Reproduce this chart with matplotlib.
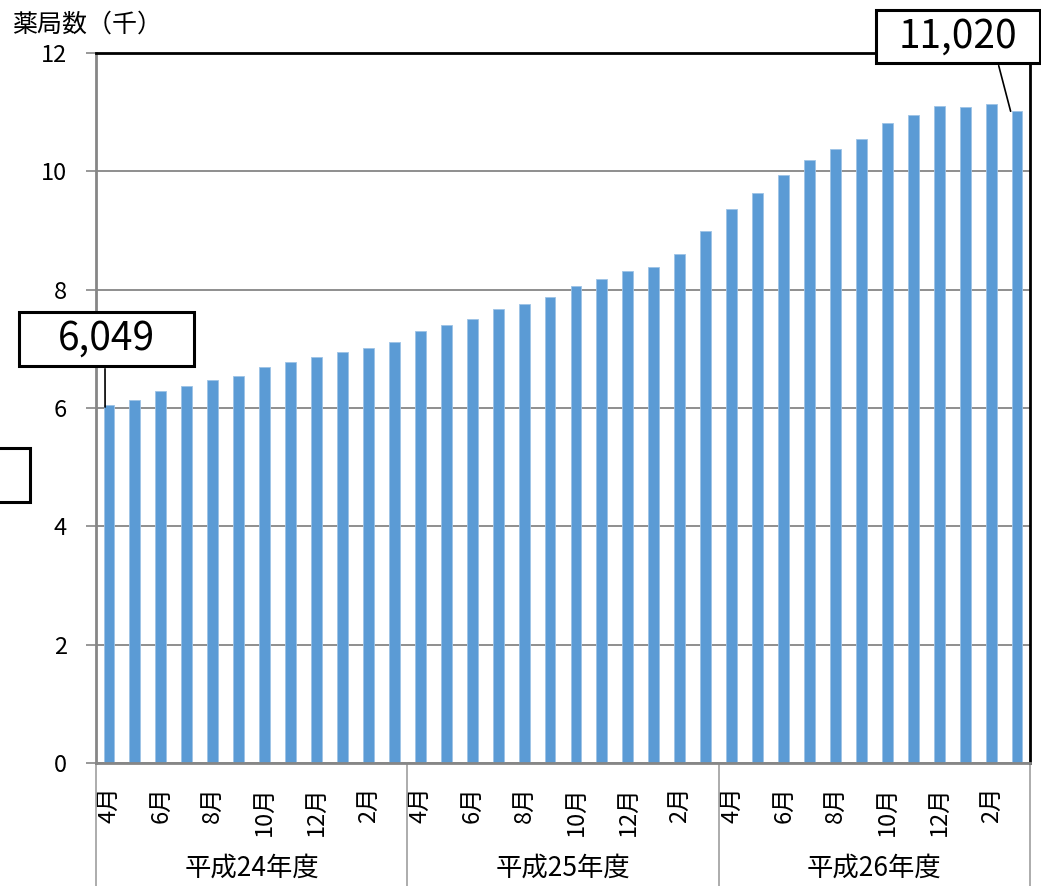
import matplotlib
matplotlib.use("Agg")
import matplotlib.pyplot as plt
from matplotlib.patches import Rectangle
from matplotlib import transforms
import numpy as np

plt.rcParams['font.family'] = ['Noto Sans CJK JP', 'DejaVu Sans']

# 薬局数（千）, monthly, FY H24 (Apr) .. FY H26 (Mar)
years = ["平成24年度", "平成25年度", "平成26年度"]
months = ["4月", "5月", "6月", "7月", "8月", "9月", "10月", "11月", "12月", "1月", "2月", "3月"]
fy24 = [6.049, 6.13, 6.28, 6.37, 6.47, 6.54, 6.69, 6.78, 6.86, 6.95, 7.01, 7.12]
fy25 = [7.30, 7.41, 7.51, 7.67, 7.75, 7.87, 8.06, 8.18, 8.32, 8.39, 8.61, 8.99]
fy26 = [9.37, 9.64, 9.93, 10.20, 10.37, 10.54, 10.82, 10.95, 11.11, 11.09, 11.14, 11.02]
first_label = "6,049"
last_label = "11,020"

values = fy24 + fy25 + fy26
x = np.arange(len(values))

W, H = 1041, 886
fig = plt.figure(figsize=(W / 100, H / 100), dpi=100)
ax = fig.add_axes([96 / W, 1 - 763 / H, (1030 - 96) / W, (763 - 53) / H])

grey = "#868686"
ax.set_axisbelow(True)
ax.yaxis.grid(True, color=grey, linewidth=1.3)
ax.bar(x, values, width=0.42, color="#5B9BD5", edgecolor="#9DC3E6", linewidth=0.6)

ax.set_xlim(-0.5, len(values) - 0.5)
ax.set_ylim(0, 12)
ax.set_yticks(range(0, 13, 2))
ax.tick_params(axis="y", colors=grey, labelcolor="black", labelsize=17, length=7, width=1.2, pad=14)

# month labels every other month
tick_pos = [i for i in x if i % 2 == 0]
ax.set_xticks(tick_pos)
ax.set_xticklabels([months[i % 12] for i in tick_pos], rotation=90, fontsize=17)
ax.tick_params(axis="x", length=0, pad=17)

for s in ["left", "bottom"]:
    ax.spines[s].set_color(grey)
    ax.spines[s].set_linewidth(2)
for s in ["top", "right"]:
    ax.spines[s].set_color("black")
    ax.spines[s].set_linewidth(2)

# fiscal-year separators and labels below the axis
trans = transforms.blended_transform_factory(ax.transData, ax.transAxes)
for k in range(len(years) + 1):
    xb = k * 12 - 0.5
    ax.plot([xb, xb], [0, -0.2], color="#A6A6A6", lw=1.3, transform=trans, clip_on=False)
for k, name in enumerate(years):
    ax.text(k * 12 + 5.5, -0.148, name, transform=trans, ha="center", va="center", fontsize=19)

fig.text(12 / W, 1 - 25 / H, "薬局数（千）", ha="left", va="center", fontsize=18)


def px(xp, yp):
    return xp / W, 1 - yp / H


def callout(x0, y0, x1, y1, text):
    fig.add_artist(Rectangle(px(x0, y1), (x1 - x0) / W, (y1 - y0) / H, transform=fig.transFigure,
                             facecolor="white", edgecolor="black", lw=2.2, zorder=5))
    cx, cy = px((x0 + x1) / 2, (y0 + y1) / 2)
    fig.text(cx, cy, text, ha="center", va="center", fontsize=28, zorder=6)


# first value callout
ax.annotate("", xy=(x[0] - 0.15, values[0] - 0.08), xycoords="data",
            xytext=px(105, 366), textcoords="figure fraction",
            arrowprops=dict(arrowstyle="-", color="black", lw=1.2), annotation_clip=False)
callout(19, 312, 194, 366, first_label)

# last value callout
ax.annotate("", xy=(x[-1] - 0.22, values[-1] - 0.05), xycoords="data",
            xytext=px(998, 63), textcoords="figure fraction",
            arrowprops=dict(arrowstyle="-", color="black", lw=1.2), annotation_clip=False)
callout(876, 10, 1040, 63, last_label)

# stray empty box at the left edge
fig.add_artist(Rectangle(px(-4, 502), 34 / W, 54 / H, transform=fig.transFigure,
                         facecolor="white", edgecolor="black", lw=2.2, zorder=5))

fig.savefig("out.png", dpi=100)
